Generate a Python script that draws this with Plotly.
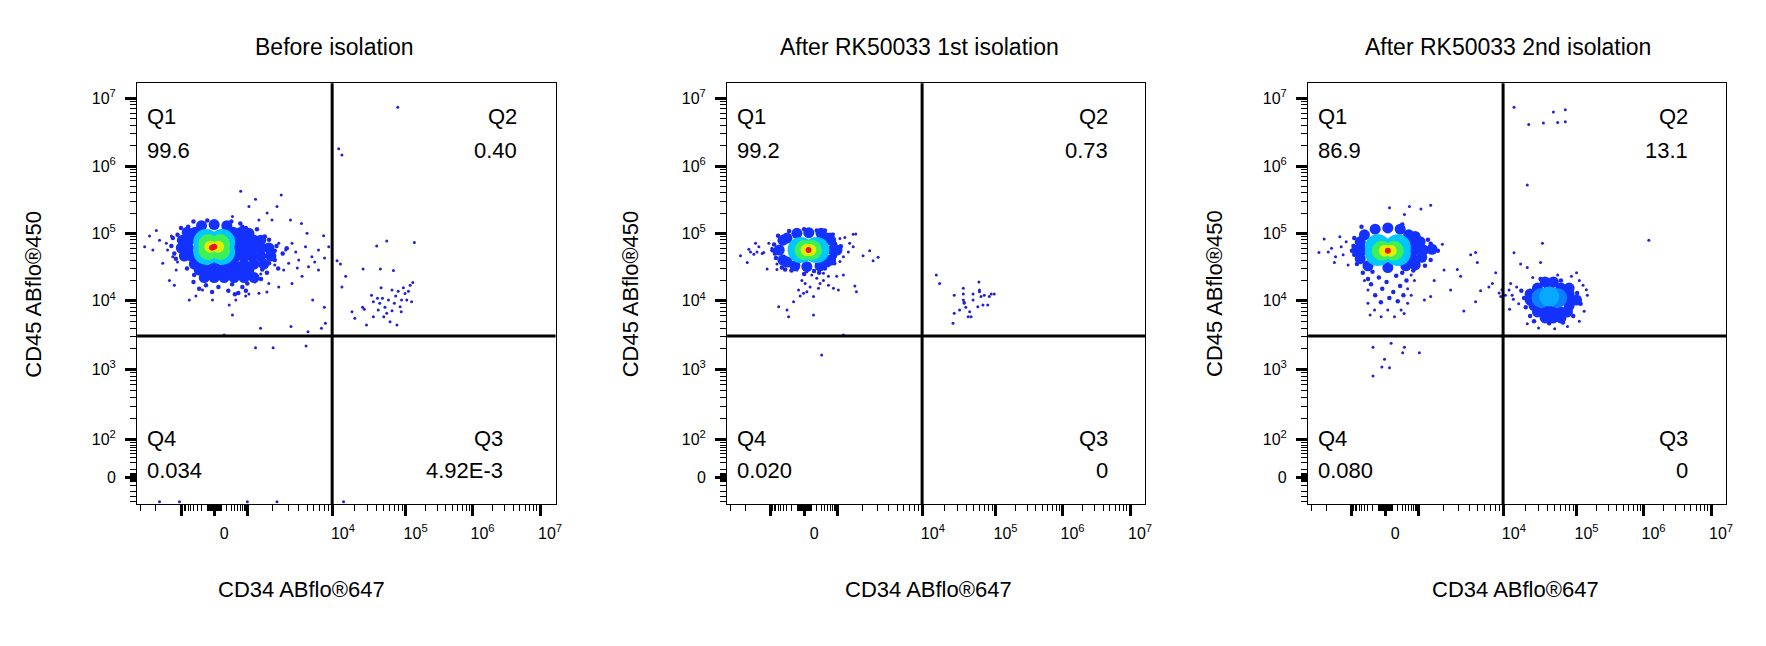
import numpy as np
import plotly.graph_objects as go

W, H = 1766, 646
PAGE_OFFSET = 8  # default body margin of the written page

TITLES = ["Before isolation", "After RK50033 1st isolation", "After RK50033 2nd isolation"]
X_TITLE = "CD34 ABflo®647"
Y_TITLE = "CD45 ABflo®450"
Q1_PCT = ["99.6", "99.2", "86.9"]
Q2_PCT = ["0.40", "0.73", "13.1"]
Q3_PCT = ["4.92E-3", "0", "0"]
Q4_PCT = ["0.034", "0.020", "0.080"]

# quadrant gate (CD34, CD45)
GATE_CD34 = 9800
GATE_CD45 = 3050

EVENTS_BEFORE = [
    (0, 6.3e4, 1.0), (-30, 6.1e4, 1.0),
    (-56, 6.3e4, .8), (56, 6.3e4, .8),
    (-86, 6.95e4, .6), (86, 6.95e4, .6), (-86, 5.65e4, .6), (86, 5.65e4, .6),
    (-117, 7.4e4, .4), (117, 7.4e4, .4), (-117, 5.3e4, .4), (117, 5.3e4, .4),
    (-200, 1.3e5, .15), (0, 1.35e5, .15), (200, 1.3e5, .15),
    (-640, 1.04e5, .15), (-350, 1.04e5, .15), (350, 1.04e5, .15), (635, 1.04e5, .15), (1045, 1.0e5, .15),
    (-910, 7.9e4, .15), (-550, 7.9e4, .15), (550, 7.9e4, .15), (910, 7.9e4, .15), (1200, 7.9e4, .15),
    (1440, 7.9e4, .15),
    (-980, 6.05e4, .15), (-590, 6.05e4, .15), (550, 6.05e4, .15), (910, 6.05e4, .15), (1200, 6.05e4, .15),
    (1440, 6.05e4, .15), (1790, 6.05e4, .15),
    (-790, 4.6e4, .15), (-475, 4.6e4, .15), (440, 4.6e4, .15), (790, 4.6e4, .15), (1130, 4.6e4, .15),
    (1440, 4.6e4, .15), (1890, 4.6e4, .15),
    (-375, 3.5e4, .15), (-190, 3.3e4, .15), (0, 3.4e4, .15), (190, 3.4e4, .15), (375, 3.5e4, .15),
    (790, 3.5e4, .15), (1200, 3.5e4, .15), (1560, 3.5e4, .15),
    (-250, 2.85e4, .15), (-70, 2.85e4, .15), (70, 2.85e4, .15), (250, 2.85e4, .15), (550, 2.85e4, .15),
    (1045, 2.85e4, .15),
    (-150, 2.2e4, .15), (0, 2.2e4, .15), (150, 2.2e4, .15), (375, 2.2e4, .15), (790, 2.2e4, .15),
    (1200, 2.2e4, .15),
    (-120, 1.7e4, .07), (60, 1.6e4, .07), (320, 1.75e4, .07), (700, 1.6e4, .07),
    (-30, 1.35e4, .07), (230, 1.4e4, .07), (520, 1.3e4, .07), (-400, 1.9e4, .07), (1000, 1.8e4, .07),
    (-1300, 6.5e4, .07), (-1250, 8.5e4, .07), (-1200, 5.0e4, .07), (2200, 6.5e4, .07), (2600, 5.0e4, .07),
    (2100, 4.0e4, .07), (1700, 2.6e4, .07), (2300, 3.0e4, .07), (-600, 1.25e5, .07), (700, 1.25e5, .07),
    (1600, 9.0e4, .07), (2900, 6.0e4, .07), (1800, 3.6e4, .07),
    (-400, 1.5e5, .07), (-100, 1.55e5, .07), (300, 1.5e5, .07), (600, 1.4e5, .07), (-1000, 1.2e5, .07),
    (900, 1.2e5, .07), (1300, 1.15e5, .07), (-1100, 9.5e4, .07), (1800, 8.0e4, .07), (-1150, 4.2e4, .07),
    (2100, 5.5e4, .07), (-650, 3.0e4, .07), (1500, 2.9e4, .07), (-380, 2.4e4, .07), (1450, 2.1e4, .07),
    (-250, 1.5e4, .07), (400, 1.25e4, .07), (900, 1.4e4, .07),
    (-2670, 6.3e4, 0), (-1950, 1.1e5, 0), (-1790, 7.9e4, 0), (-1640, 3.6e4, 0), (-1370, 2.0e4, 0),
    (-1200, 1.7e4, 0), (-2140, 5.65e4, 0), (-1250, 4.5e4, 0), (-1490, 7.1e4, 0), (-1140, 2.85e4, 0),
    (-2340, 9.1e4, 0), (-1440, 5.65e4, 0), (-1100, 3.75e4, 0), (-1300, 9.1e4, 0),
    (620, 4.2e5, 0), (1250, 3.2e5, 0), (2500, 3.7e5, 0), (1045, 2.5e5, 0), (2230, 2.5e5, 0),
    (1710, 2.0e5, 0), (330, 1.77e5, 0), (1950, 1.58e5, 0), (3200, 1.58e5, 0), (4300, 1.4e5, 0),
    (1370, 1.58e5, 0),
    (5000, 1.0e5, 0), (7800, 9.2e4, 0), (4800, 6.3e4, 0), (3340, 7.1e4, 0), (6800, 5.65e4, 0),
    (5700, 4.5e4, 0), (4000, 4.0e4, 0), (8950, 6.3e4, 0), (3050, 3.6e4, 0), (5200, 3.2e4, 0),
    (4370, 2.3e4, 0), (6800, 2.85e4, 0), (3340, 1.8e4, 0), (2340, 1.6e4, 0), (1790, 1.8e4, 0),
    (2670, 2.85e4, 0), (1950, 4.5e4, 0), (2340, 7.1e4, 0), (1640, 8.9e4, 0), (2820, 5.65e4, 0),
    (3690, 5.3e4, 0), (2100, 3.4e4, 0), (1440, 2.5e4, 0), (1230, 1.9e4, 0), (1700, 1.35e4, 0),
    (1045, 1.26e4, 0), (6140, 3.75e4, 0), (8000, 4.3e4, 0), (3850, 3.05e4, 0),
    (330, 6200, 0), (1430, 3960, 0), (3250, 4200, 0), (5130, 3530, 0), (7350, 3960, 0),
    (8180, 4680, 0), (5820, 1.02e4, 0), (7950, 8000, 0), (150, 3160, 0), (-181, 1.44e4, 0),
    (-330, 1.17e4, 0), (-24, 1.02e4, 0), (430, 1.02e4, 0), (890, 1.17e4, 0), (1370, 1.29e4, 0),
    (-550, 1.02e4, 0), (250, 8650, 0),
    (1250, 2070, 0), (2010, 2070, 0), (4870, 2190, 0),
    (-1790, -42, 0), (-1045, -42, 0), (1000, -42, 0), (2230, -42, 0), (1.4e4, -42, 0),
    (7.8e4, 7.4e6, 0), (1.2e4, 1.8e6, 0), (1.33e4, 1.45e6, 0), (4.0e4, 6.5e4, 0), (5.5e4, 7.7e4, 0),
    (1.35e5, 7.3e4, 0), (1.14e4, 3.9e4, 0), (1.27e4, 3.5e4, 0), (1.5e4, 2.3e4, 0), (1.33e4, 1.6e4, 0),
    (2.6e4, 2.95e4, 0), (4.5e4, 2.95e4, 0), (6.8e4, 2.8e4, 0),
    (1.83e4, 6900, 0), (2.0e4, 5530, 0), (2.56e4, 8000, 0), (2.7e4, 7500, 0), (2.9e4, 4430, 0),
    (3.4e4, 1.2e4, 0), (3.6e4, 9660, 0), (3.6e4, 5850, 0), (4.1e4, 1.09e4, 0), (4.4e4, 9160, 0),
    (4.6e4, 1.56e4, 0), (4.8e4, 1.09e4, 0), (5.2e4, 8000, 0), (5.5e4, 6550, 0), (5.8e4, 1.02e4, 0),
    (6.1e4, 4940, 0), (6.5e4, 1.44e4, 0), (6.5e4, 7150, 0), (7.0e4, 9160, 0), (7.3e4, 1.17e4, 0),
    (7.6e4, 4430, 0), (7.9e4, 1.38e4, 0), (8.4e4, 8180, 0), (8.8e4, 1.02e4, 0), (9.3e4, 1.56e4, 0),
    (9.8e4, 1.28e4, 0), (1.04e5, 1.02e4, 0), (1.1e5, 1.38e4, 0), (1.17e5, 1.7e4, 0), (1.23e5, 9660, 0),
    (1.28e5, 1.87e4, 0), (8.7e4, 6900, 0), (4.2e4, 7330, 0), (5.0e4, 5850, 0),
]

EVENTS_1ST = [
    (62, 5.65e4, 1.0),
    (34, 5.65e4, .8), (90, 5.65e4, .8),
    (6, 5.65e4, .6), (117, 5.65e4, .6),
    (-50, 5.65e4, .4), (194, 5.65e4, .4),
    (-105, 1.0e5, .15), (66, 1.02e5, .15), (295, 1.0e5, .15), (-415, 7.9e4, .15), (620, 7.9e4, .15),
    (-550, 5.65e4, .15), (730, 5.65e4, .15), (980, 5.65e4, .15), (-415, 4.0e4, .15), (620, 4.0e4, .15),
    (-138, 3.3e4, .15), (38, 3.2e4, .15), (270, 3.3e4, .15), (-300, 3.75e4, .15), (460, 3.75e4, .15),
    (-300, 8.5e4, .15), (460, 8.5e4, .15),
    (-650, 6.0e4, .07), (-750, 5.0e4, .07), (850, 4.6e4, .07), (850, 7.0e4, .07), (-200, 2.8e4, .07),
    (150, 2.75e4, .07), (400, 3.0e4, .07), (-450, 3.1e4, .07), (0, 2.5e4, .07), (200, 1.1e5, .07),
    (-250, 1.08e5, .07), (-800, 6.8e4, .07),
    (-600, 9.2e4, .07), (700, 9.5e4, .07), (-700, 4.3e4, .07), (800, 3.6e4, .07), (-350, 2.9e4, .07),
    (250, 2.6e4, .07), (1100, 6.4e4, .07), (-900, 5.6e4, .07), (0, 1.15e5, .07), (400, 1.1e5, .07),
    (-2280, 4.65e4, 0), (-1900, 3.7e4, 0), (-1820, 5.8e4, 0), (-1740, 5.3e4, 0), (-1520, 7.1e4, 0),
    (-1460, 5.3e4, 0), (-1390, 6.3e4, 0), (-1220, 5.2e4, 0), (-1110, 2.95e4, 0), (-1060, 7.1e4, 0),
    (-930, 6.0e4, 0), (-650, 3.5e4, 0), (-1270, 5.0e4, 0), (-1590, 4.9e4, 0), (-650, 2.9e4, 0),
    (590, 9.8e4, 0), (758, 9.8e4, 0), (1075, 8.4e4, 0), (1230, 8.7e4, 0), (1540, 9.7e4, 0),
    (1650, 9.8e4, 0), (1400, 7.1e4, 0), (1540, 6.3e4, 0), (1350, 5.3e4, 0), (2010, 4.65e4, 0),
    (2400, 5.5e4, 0), (2630, 3.9e4, 0), (3010, 4.4e4, 0), (1075, 3.8e4, 0), (958, 5.15e4, 0),
    (1180, 4.5e4, 0),
    (-106, 2.85e4, 0), (38, 2.7e4, 0), (112, 2.4e4, 0), (-32, 2.0e4, 0), (14, 1.8e4, 0),
    (86, 1.6e4, 0), (200, 2.15e4, 0), (271, 1.8e4, 0), (358, 2.0e4, 0), (527, 1.7e4, 0),
    (758, 1.53e4, 0), (1030, 1.44e4, 0), (1610, 1.65e4, 0), (1680, 1.36e4, 0), (-80, 1.44e4, 0),
    (-8, 1.29e4, 0), (140, 1.15e4, 0), (-56, 1.17e4, 0), (38, 1.36e4, 0), (-161, 9660, 0),
    (-575, 8180, 0), (-300, 7310, 0), (-262, 5850, 0), (140, 6190, 0), (358, 2.55e4, 0),
    (527, 2.3e4, 0), (235, 1.53e4, 0), (958, 2.3e4, 0), (1180, 2.4e4, 0),
    (1180, 3160, 0), (310, 1610, 0),
    (1.53e4, 2.4e4, 0), (1.7e4, 1.8e4, 0), (2.6e4, 4680, 0), (2.7e4, 6550, 0), (2.7e4, 1.2e4, 0),
    (3.6e4, 1.53e4, 0), (3.6e4, 1.26e4, 0), (3.6e4, 1.02e4, 0), (3.7e4, 9480, 0), (3.7e4, 9160, 0),
    (3.9e4, 8010, 0), (4.4e4, 6910, 0), (4.6e4, 5850, 0), (4.2e4, 5850, 0), (4.9e4, 1.02e4, 0),
    (4.9e4, 1.26e4, 0), (5.7e4, 8180, 0), (5.9e4, 1.9e4, 0), (6.0e4, 1.44e4, 0), (6.0e4, 1.36e4, 0),
    (6.3e4, 1.15e4, 0), (6.7e4, 8650, 0), (7.0e4, 1.2e4, 0), (7.8e4, 8650, 0), (8.2e4, 1.15e4, 0),
    (8.7e4, 1.26e4, 0), (9.6e4, 1.26e4, 0), (3.2e4, 7310, 0),
]

EVENTS_2ND = [
    (38, 5.5e4, 1.0),
    (-4, 5.5e4, .8), (80, 5.5e4, .8),
    (-46, 5.5e4, .6), (128, 5.5e4, .6),
    (-105, 6.2e4, .4), (200, 6.2e4, .4), (-105, 5.1e4, .4), (200, 5.1e4, .4),
    (-150, 1.15e5, .15), (38, 1.2e5, .15), (250, 1.15e5, .15), (-400, 9.5e4, .15), (500, 9.5e4, .15),
    (800, 9.0e4, .15), (-550, 7.5e4, .15), (650, 7.5e4, .15), (1050, 7.5e4, .15), (-700, 5.65e4, .15),
    (-450, 5.65e4, .15), (750, 5.65e4, .15), (1150, 5.65e4, .15), (1450, 5.8e4, .15),
    (-550, 4.2e4, .15), (650, 4.2e4, .15), (1100, 4.4e4, .15), (-300, 3.3e4, .15), (38, 3.1e4, .15),
    (400, 3.3e4, .15), (800, 3.4e4, .15),
    (-200, 2.7e4, .07), (60, 2.95e4, .07), (300, 2.6e4, .07), (-90, 2.2e4, .07), (170, 2.35e4, .07),
    (-230, 1.75e4, .07), (20, 1.9e4, .07), (250, 1.65e4, .07), (-40, 1.5e4, .07), (120, 1.35e4, .07),
    (60, 1.1e4, .07), (-150, 1.2e4, .07), (330, 1.2e4, .07), (-60, 9500, .07), (200, 9800, .07),
    (-300, 2.1e4, .07), (420, 2.0e4, .07),
    (-900, 6.5e4, .07), (-850, 4.8e4, .07), (1400, 4.0e4, .07), (1300, 8.0e4, .07),
    (-500, 1.25e5, .07), (300, 1.35e5, .07), (-850, 8.5e4, .07), (1400, 7.0e4, .07), (1700, 5.5e4, .07),
    (-1000, 5.5e4, .07), (-700, 3.5e4, .07), (1200, 3.3e4, .07), (-450, 2.6e4, .07), (700, 2.8e4, .07),
    (-300, 1.44e4, 0), (460, 1.5e4, 0), (758, 2.0e4, 0), (-300, 9160, 0), (460, 9160, 0),
    (38, 7310, 0), (-161, 7310, 0), (271, 7310, 0), (-56, 5850, 0), (140, 5850, 0),
    (-250, 6200, 0), (350, 6500, 0), (600, 1.2e4, 0), (-400, 2.0e4, 0), (600, 2.4e4, 0),
    (-2440, 5.2e4, 0), (-2120, 8.2e4, 0), (-1900, 5.3e4, 0), (-1610, 3.7e4, 0), (-1390, 8.9e4, 0),
    (-1270, 4.8e4, 0), (-1110, 3.4e4, 0), (-1340, 6.3e4, 0), (-1170, 7.5e4, 0), (-1740, 6.0e4, 0),
    (-1560, 4.5e4, 0),
    (62, 2.4e5, 0), (527, 2.5e5, 0), (1075, 2.3e5, 0), (1400, 2.6e5, 0), (358, 1.9e5, 0),
    (1920, 6.9e4, 0), (1540, 5.3e4, 0), (2010, 2.85e4, 0), (2870, 2.9e4, 0), (3140, 2.3e4, 0),
    (4110, 4.8e4, 0), (4690, 5.2e4, 0), (4910, 3.7e4, 0), (5360, 1.4e4, 0), (4690, 9660, 0),
    (6700, 1.6e4, 0), (7350, 1.8e4, 0), (8040, 2.6e4, 0), (3420, 7100, 0), (2400, 1.44e4, 0),
    (1540, 2.0e4, 0), (1400, 1.15e4, 0), (1180, 1.02e4, 0), (8800, 1.3e4, 0), (9200, 1.15e4, 0),
    (9500, 1.45e4, 0),
    (-190, 2090, 0), (86, 2390, 0), (358, 2090, 0), (1030, 1750, 0), (310, 1750, 0),
    (-8, 1400, 0), (62, 1050, 0), (-46, 1080, 0), (-190, 800, 0),
    (1.38e4, 7.4e6, 0), (2.2e4, 4.1e6, 0), (3.5e4, 4.3e6, 0), (2.1e4, 5.2e5, 0), (4.8e4, 6.3e6, 0),
    (7.0e4, 6.8e6, 0), (7.0e4, 4.5e6, 0), (5.5e4, 4.4e6, 0), (1.2e6, 7.9e4, 0),
    (1.38e4, 5.15e4, 0), (1.7e4, 3.5e4, 0), (2.1e4, 3.1e4, 0), (3.2e4, 3.7e4, 0), (3.4e4, 7.1e4, 0),
    (1.24e4, 1.8e4, 0), (1.18e4, 1.44e4, 0), (1.05e4, 1.2e4, 0),
    (3.7e4, 1.9e4, .15), (4.8e4, 1.9e4, .15), (2.9e4, 1.54e4, .15), (6.1e4, 1.54e4, .15),
    (7.9e4, 1.54e4, .15), (2.3e4, 1.26e4, .15), (7.9e4, 1.26e4, .15), (2.3e4, 1.02e4, .15),
    (7.9e4, 1.02e4, .15), (1.0e5, 1.02e4, .15), (2.6e4, 8500, .15), (7.9e4, 8500, .15),
    (2.9e4, 6850, .15), (3.7e4, 6850, .15), (4.8e4, 6850, .15), (6.1e4, 6850, .15), (7.5e4, 6850, .15),
    (3.7e4, 5600, .15), (4.8e4, 5600, .15), (6.1e4, 5600, .15), (4.2e4, 1.5e4, .15), (4.2e4, 8000, .15),
    (3.3e4, 1.1e4, .25), (5.4e4, 1.1e4, .25), (4.2e4, 1.15e4, .32),
    (1.74e4, 1.4e4, .07), (1.9e4, 1.1e4, .07), (2.0e4, 8000, .07), (1.02e5, 1.3e4, .07),
    (1.15e5, 9000, .07), (9e4, 6000, .07), (2.3e4, 6000, .07), (3.2e4, 2.1e4, .07), (6.1e4, 2.0e4, .07),
    (4.2e4, 4700, .07), (6.5e4, 4800, .07), (2.6e4, 5000, .07),
    (1.5e4, 1.6e4, 0), (1.3e4, 1.2e4, 0), (1.6e4, 9000, 0), (1.45e5, 1.2e4, 0), (1.3e5, 7000, 0),
    (1.25e5, 1.7e4, 0), (1.1e5, 2.0e4, 0), (8.5e4, 2.3e4, 0), (5.5e4, 2.4e4, 0), (2.5e4, 2.2e4, 0),
    (3.0e4, 4000, 0), (5.0e4, 3900, 0), (7.5e4, 4200, 0), (2.1e4, 4600, 0), (1.1e5, 5000, 0),
    (1.2e4, 7500, 0), (1.35e4, 1.05e4, 0), (1.0e5, 2.6e4, 0), (1.4e5, 1.45e4, 0),
]

PANELS = [EVENTS_BEFORE, EVENTS_1ST, EVENTS_2ND]

# biexponential display scale (axis units = pixels inside the 420x421 plot box)
X_ANCHOR_V = [-1e5, -1e4, -1e3, 0, 1e3, 1e4, 1e5, 1e6, 1e7, 1e8]
X_ANCHOR_P = [-128, -42, 44, 77.3, 110.6, 196.5, 269.5, 336.7, 404.5, 472.3]
Y_ANCHOR_V = [-1e3, -1e2, 0, 1e2, 1e3, 1e4, 1e5, 1e6, 1e7, 1e8]
Y_ANCHOR_P = [-81, -11, 27, 65, 135, 203.6, 271, 338.3, 406, 474]


def biex(v, av, ap, c):
    g = np.arcsinh(np.asarray(v, float) / c)
    return np.interp(g, np.arcsinh(np.asarray(av, float) / c), ap)


def sx(v):
    return biex(v, X_ANCHOR_V, X_ANCHOR_P, 200.0)


def sy(v):
    return biex(v, Y_ANCHOR_V, Y_ANCHOR_P, 20.0)


def sup(e):
    return "10<sup>%d</sup>" % e


# tick positions
x_major = [-1e3, 0, 1e3, 1e4, 1e5, 1e6, 1e7]
x_major_txt = ["", "0", "", sup(4), sup(5), sup(6), sup(7)]
x_minor = []
for s in (-1, 1):
    x_minor += [s * m * 10 for m in range(1, 10)] + [s * m * 100 for m in range(1, 10)]
x_minor += [-m * 1000 for m in range(2, 10)]
for e in range(3, 7):
    x_minor += [m * 10 ** e for m in range(2, 10)]

y_major = [0, 1e2, 1e3, 1e4, 1e5, 1e6, 1e7]
y_major_txt = ["0", sup(2), sup(3), sup(4), sup(5), sup(6), sup(7)]
y_minor = [s * m for s in (-1, 1) for m in range(1, 6)]
y_minor += [s * m * 10 for s in (-1, 1) for m in range(1, 10)]
for e in range(2, 7):
    y_minor += [m * 10 ** e for m in range(2, 10)]

XR, YR = 420, 421
x_minor_p = [p for p in sx(x_minor) if 0 <= p <= XR]
y_minor_p = [p for p in sy(y_minor) if 0 <= p <= YR]

PANEL_LEFT = [137.7, 730.0, 1313.3]
PLOT_TOP, PLOT_BOTTOM = 83.3, 504.3
TITLE_CX = [336, 923, 1514]
XTITLE_CX = [303, 932, 1522]
YTITLE_CX = [34, 633, 1220]
RIGHT_Q2 = [521, 1114, 1697]
RIGHT_Q3 = [507, 1114, 1697]

FONT = "Liberation Sans, Arial, sans-serif"
DENS_SCALE = [
    [0.0, "#2222d4"], [0.1, "#1a28f8"], [0.15, "#1432ff"], [0.25, "#0a80ff"], [0.32, "#08a8ff"],
    [0.4, "#00c8ff"], [0.6, "#3cf05a"], [0.8, "#e0f000"], [0.9, "#ff9600"], [1.0, "#f01414"],
]


def msize(d):
    if d < 0.05:
        return 3
    if d < 0.1:
        return 4.5
    if d < 0.2:
        return 11
    if d < 0.35:
        return 20
    if d < 0.5:
        return 26
    if d < 0.7:
        return 20
    if d < 0.9:
        return 12
    return 6


def px(x):
    return (x - PAGE_OFFSET) / W


def py(y):
    return 1 - (y - PAGE_OFFSET) / H


fig = go.Figure()
annotations = []
shapes = []

for i, events in enumerate(PANELS):
    sfx = "" if i == 0 else str(i + 1)
    ev = sorted(events, key=lambda e: e[2])
    cd34 = [e[0] for e in ev]
    cd45 = [e[1] for e in ev]
    dens = [e[2] for e in ev]

    fig.add_trace(go.Scatter(
        x=sx(cd34), y=sy(cd45), mode="markers",
        marker=dict(size=[msize(d) for d in dens], color=dens, colorscale=DENS_SCALE,
                    cmin=0, cmax=1, opacity=1, line=dict(width=0)),
        xaxis="x" + sfx, yaxis="y" + sfx, hoverinfo="skip", showlegend=False,
    ))

    left = PANEL_LEFT[i]
    fig.layout["xaxis" + sfx] = dict(
        domain=[px(left), px(left + XR)], range=[0, XR], anchor="y" + sfx,
        showgrid=False, zeroline=False, showline=True, mirror=True,
        linecolor="black", linewidth=1.3,
        tickmode="array", tickvals=list(sx(x_major)), ticktext=x_major_txt,
        ticks="outside", ticklen=11, tickwidth=2.5, tickcolor="black",
        ticklabelstandoff=3, ticklabelshift=10,
        tickfont=dict(family=FONT, size=16, color="black"),
        minor=dict(tickmode="array", tickvals=x_minor_p, ticks="outside",
                   ticklen=6, tickwidth=1, tickcolor="black"),
    )
    fig.layout["yaxis" + sfx] = dict(
        domain=[py(PLOT_BOTTOM), py(PLOT_TOP)], range=[0, YR], anchor="x" + sfx,
        showgrid=False, zeroline=False, showline=True, mirror=True,
        linecolor="black", linewidth=1.3,
        tickmode="array", tickvals=list(sy(y_major)), ticktext=y_major_txt,
        ticks="outside", ticklen=11, tickwidth=2.5, tickcolor="black",
        ticklabelstandoff=6,
        tickfont=dict(family=FONT, size=16, color="black"),
        minor=dict(tickmode="array", tickvals=y_minor_p, ticks="outside",
                   ticklen=6, tickwidth=1, tickcolor="black"),
    )

    # quadrant gate
    gx = float(sx(GATE_CD34))
    gy = float(sy(GATE_CD45))
    shapes.append(dict(type="line", xref="x" + sfx, yref="y" + sfx + " domain",
                       x0=gx, x1=gx, y0=0, y1=1, line=dict(color="black", width=3)))
    shapes.append(dict(type="line", xref="x" + sfx + " domain", yref="y" + sfx,
                       x0=0, x1=1, y0=gy, y1=gy, line=dict(color="black", width=3)))

    def txt(text, x, y, anchor="center", size=22, angle=0):
        annotations.append(dict(
            text=text, x=px(x), y=py(y), xref="paper", yref="paper",
            xanchor=anchor, yanchor="middle", showarrow=False, textangle=angle,
            font=dict(family=FONT, size=size, color="black"),
        ))

    txt(TITLES[i], TITLE_CX[i], 47, size=23)
    txt(X_TITLE, XTITLE_CX[i], 589)
    txt(Y_TITLE, YTITLE_CX[i], (PLOT_TOP + PLOT_BOTTOM) / 2, angle=-90)

    txt("Q1", left + 8, 116.7, "left")
    txt(Q1_PCT[i], left + 8, 150, "left")
    txt("Q4", left + 8, 438, "left")
    txt(Q4_PCT[i], left + 8, 471, "left")
    txt("Q2", RIGHT_Q2[i], 116.7, "right")
    txt(Q2_PCT[i], RIGHT_Q2[i], 150, "right")
    txt("Q3", RIGHT_Q3[i], 438, "right")
    txt(Q3_PCT[i], RIGHT_Q3[i], 471, "right")

fig.update_layout(
    width=W, height=H,
    margin=dict(l=0, r=0, t=0, b=0),
    paper_bgcolor="white", plot_bgcolor="white",
    annotations=annotations, shapes=shapes,
    font=dict(family=FONT, color="black"),
)

fig.write_html("out.html")
